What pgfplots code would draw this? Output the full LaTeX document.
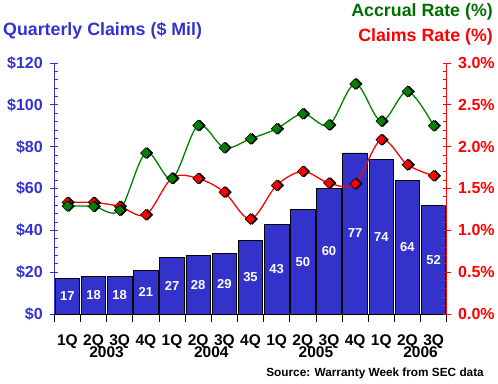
\documentclass[border=0pt]{standalone}
\usepackage{pgfplots}
\usepackage{pgfplotstable}
\pgfplotsset{compat=1.18}
\usepackage{fontspec}
\setmainfont{Liberation Sans}
\definecolor{cblue}{RGB}{51,51,204}
\definecolor{cgreen}{RGB}{0,128,0}
\definecolor{dgreen}{RGB}{0,110,0}
\definecolor{cred}{RGB}{255,0,0}
\pgfplotstableread{
x claims claimsrate accrualrate
0  17 1.333 1.290
1  18 1.333 1.286
2  18 1.286 1.240
3  21 1.186 1.924
4  27 1.625 1.620
5  28 1.620 2.253
6  29 1.457 1.987
7  35 1.135 2.094
8  43 1.537 2.214
9  50 1.704 2.393
10 60 1.565 2.260
11 77 1.557 2.750
12 74 2.083 2.305
13 64 1.784 2.660
14 52 1.652 2.250
}\datatable
\begin{document}
\begin{tikzpicture}[font=\bfseries]
\path[use as bounding box] (0,0) rectangle (498pt,383pt);
\begin{axis}[
  at={(54.3pt,69pt)}, anchor=south west,
  scale only axis, width=392.4pt, height=251pt,
  xmin=-0.5, xmax=14.5, ymin=0, ymax=120,
  axis x line*=bottom, axis y line*=left,
  /pgf/number format/assume math mode=true,
  tick align=center, major tick length=8pt, minor tick length=4pt,
  xtick={0,...,14},
  xticklabels={1Q,2Q,3Q,4Q,1Q,2Q,3Q,4Q,1Q,2Q,3Q,4Q,1Q,2Q,3Q},
  xticklabel style={font=\fontsize{15.5}{16}\selectfont\bfseries, text=black, anchor=base, inner sep=0pt, yshift=-27.5pt},
  major x tick style={draw=none},
  extra x ticks={-0.5,0.5,...,14.5},
  extra x tick labels={},
  extra x tick style={major x tick style={draw=black, yshift=-4pt, line width=0.8pt}},
  x axis line style={black, line width=0.8pt},
  ytick={0,20,...,120}, minor y tick num=4,
  yticklabel={\$\pgfmathprintnumber{\tick}},
  yticklabel style={font=\fontsize{16}{18}\selectfont\bfseries, text=cblue, xshift=-4pt},
  y axis line style={cblue, line width=0.8pt},
  y tick style={cblue, line width=0.8pt},
  minor y tick style={xshift=2pt},
  clip=false,
]
\addplot[ybar, bar width=24.5pt, fill=cblue, draw=black, line width=0.8pt,
  nodes near coords,
  visualization depends on={y \as \rawy},
  every node near coord/.append style={font=\fontsize{13}{15}\selectfont\bfseries, text=white, anchor=center, shift={(axis direction cs:0,-\rawy/2)}},
] table[x=x, y=claims] {\datatable};
\node[anchor=base, inner sep=0pt, font=\fontsize{15.5}{16}\selectfont\bfseries] at (axis cs:1.5,0) [yshift=-43pt] {2003};
\node[anchor=base, inner sep=0pt, font=\fontsize{15.5}{16}\selectfont\bfseries] at (axis cs:5.5,0) [yshift=-43pt] {2004};
\node[anchor=base, inner sep=0pt, font=\fontsize{15.5}{16}\selectfont\bfseries] at (axis cs:9.5,0) [yshift=-43pt] {2005};
\node[anchor=base, inner sep=0pt, font=\fontsize{15.5}{16}\selectfont\bfseries] at (axis cs:13.5,0) [yshift=-43pt] {2006};
\end{axis}
\begin{axis}[
  at={(54.3pt,69pt)}, anchor=south west,
  scale only axis, width=392.4pt, height=251pt,
  xmin=-0.5, xmax=14.5, ymin=0, ymax=3,
  axis x line=none, axis y line*=right,
  /pgf/number format/assume math mode=true,
  tick align=center, major tick length=8pt, minor tick length=4pt,
  ytick={0,0.5,...,3}, minor y tick num=4,
  yticklabel={\pgfmathprintnumber[fixed,fixed zerofill,precision=1]{\tick}\%},
  yticklabel style={font=\fontsize{16}{18}\selectfont\bfseries, text=cred, xshift=4pt},
  y axis line style={cred, line width=0.8pt},
  y tick style={cred, line width=0.8pt},
  minor y tick style={xshift=-2pt},
  clip=false,
]
\addplot[cred, line width=1.3pt, smooth, tension=0.55, forget plot]
  table[x=x, y=claimsrate] {\datatable};
\addplot[only marks, mark=square*, mark size=3.8pt,
  mark options={rotate=45, fill=black, draw=black, xshift=1.2pt, yshift=-1.2pt}]
  table[x=x, y=claimsrate] {\datatable};
\addplot[only marks, mark=square*, mark size=3.8pt,
  mark options={rotate=45, fill=cred, draw=black, line width=0.6pt}]
  table[x=x, y=claimsrate] {\datatable};
\addplot[cgreen, line width=1.3pt, smooth, tension=0.55]
  table[x=x, y=accrualrate] {\datatable};
\addplot[only marks, mark=square*, mark size=3.8pt,
  mark options={rotate=45, fill=black, draw=black, xshift=1.2pt, yshift=-1.2pt}]
  table[x=x, y=accrualrate] {\datatable};
\addplot[only marks, mark=square*, mark size=3.8pt,
  mark options={rotate=45, fill=cgreen, draw=black, line width=0.6pt}]
  table[x=x, y=accrualrate] {\datatable};
\end{axis}
\node[anchor=base west, inner sep=0pt, text=cblue, font=\fontsize{17.8}{20}\selectfont\bfseries] at (3pt,347pt) {Quarterly Claims (\$ Mil)};
\node[anchor=base east, inner sep=0pt, text=dgreen, font=\fontsize{17.8}{20}\selectfont\bfseries] at (493pt,366pt) {Accrual Rate (\%)};
\node[anchor=base east, inner sep=0pt, text=cred, font=\fontsize{17.8}{20}\selectfont\bfseries] at (493pt,341pt) {Claims Rate (\%)};
\node[anchor=base east, inner sep=0pt, font=\fontsize{11.8}{14}\selectfont\bfseries] at (484pt,7pt) {Source: Warranty Week from SEC data};
\end{tikzpicture}
\end{document}
